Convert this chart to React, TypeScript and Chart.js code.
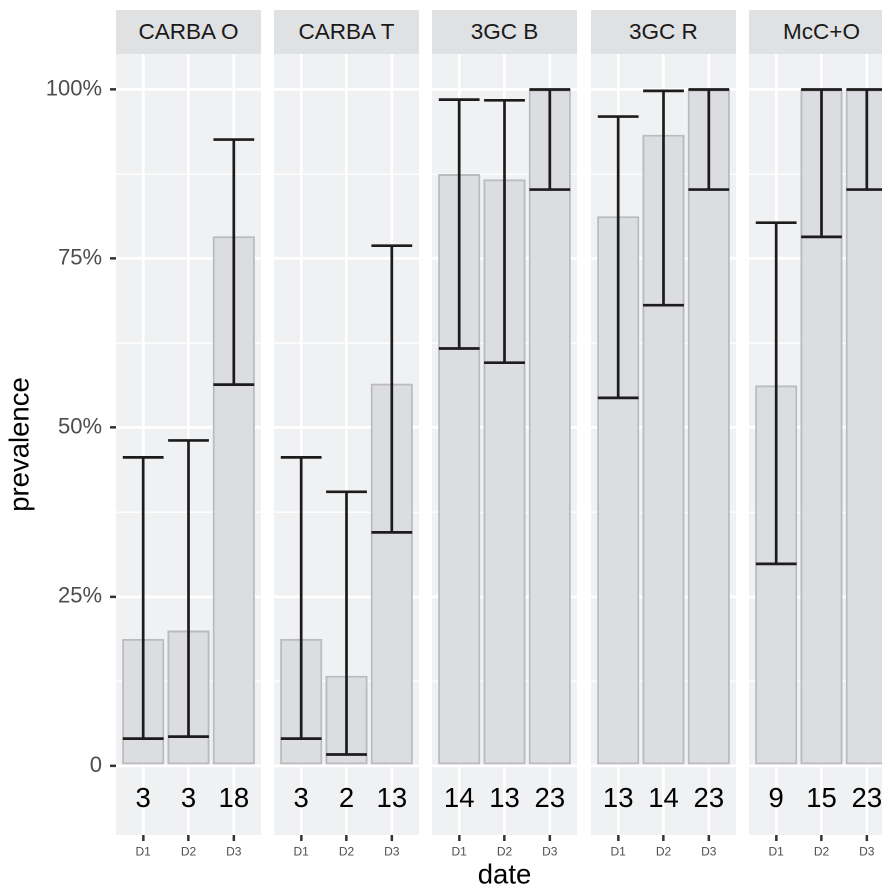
import React, { useEffect, useRef } from "react";
import { Chart, registerables } from "chart.js";

Chart.register(...registerables);

// ---------- data ----------
const FACETS = ["CARBA O", "CARBA T", "3GC B", "3GC R", "McC+O"];
const DATES = ["D1", "D2", "D3"];

const PREV_CARBA_O = [0.1875, 0.2, 0.783];
const PREV_CARBA_T = [0.1875, 0.133, 0.565];
const PREV_3GC_B = [0.875, 0.867, 1.0];
const PREV_3GC_R = [0.8125, 0.933, 1.0];
const PREV_MCC_O = [0.5625, 1.0, 1.0];

const LOW_CARBA_O = [0.04, 0.043, 0.5635];
const LOW_CARBA_T = [0.04, 0.0165, 0.345];
const LOW_3GC_B = [0.617, 0.596, 0.852];
const LOW_3GC_R = [0.544, 0.681, 0.852];
const LOW_MCC_O = [0.2985, 0.782, 0.852];

const UP_CARBA_O = [0.456, 0.481, 0.926];
const UP_CARBA_T = [0.456, 0.405, 0.769];
const UP_3GC_B = [0.985, 0.984, 1.0];
const UP_3GC_R = [0.96, 0.998, 1.0];
const UP_MCC_O = [0.803, 1.0, 1.0];

const N_CARBA_O = [3, 3, 18];
const N_CARBA_T = [3, 2, 13];
const N_3GC_B = [14, 13, 23];
const N_3GC_R = [13, 14, 23];
const N_MCC_O = [9, 15, 23];

const PREVALENCE = [PREV_CARBA_O, PREV_CARBA_T, PREV_3GC_B, PREV_3GC_R, PREV_MCC_O];
const LOWER = [LOW_CARBA_O, LOW_CARBA_T, LOW_3GC_B, LOW_3GC_R, LOW_MCC_O];
const UPPER = [UP_CARBA_O, UP_CARBA_T, UP_3GC_B, UP_3GC_R, UP_MCC_O];
const COUNTS = [N_CARBA_O, N_CARBA_T, N_3GC_B, N_3GC_R, N_MCC_O];

const Y_MAJOR = [0, 0.25, 0.5, 0.75, 1];
const Y_MAJOR_LABELS = ["0", "25%", "50%", "75%", "100%"];
const Y_MINOR = [0.125, 0.375, 0.625, 0.875];

// ---------- layout / style ----------
const FONT = "'Liberation Sans', Arial, Helvetica, sans-serif";
const PANEL_LEFTS = [116, 274, 432, 591, 749];
const PANEL_W = 145;
const STRIP_TOP = 10;
const STRIP_H = 44;
const CANVAS_H = 887 - STRIP_TOP;
const X_AXIS_H = 52;
const Y_AXIS_W = 116;
const Y_MIN = -0.1025;
const Y_MAX = 1.0525;
const X_MIN = -0.6;
const X_MAX = 2.6;
const COUNT_Y = -0.05;
const TICK_LEN = 6;

const PANEL_BG = "#f0f1f3";
const STRIP_BG = "#e0e1e3";
const BAR_FILL = "#dcdde0";
const BAR_BORDER = "#babbbd";
const ERR_COLOR = "#1c1c1c";
const TICK_COLOR = "#333333";
const TICK_TEXT = "#4d4d4d";

function Panel({ index }: { index: number }) {
  const ref = useRef<HTMLCanvasElement | null>(null);
  const isFirst = index === 0;
  const left = isFirst ? 0 : PANEL_LEFTS[index];
  const width = isFirst ? PANEL_LEFTS[0] + PANEL_W : PANEL_W;

  useEffect(() => {
    if (!ref.current) return;
    const lower = LOWER[index];
    const upper = UPPER[index];
    const counts = COUNTS[index];

    const facetPlugin = {
      id: "facetPanel",
      beforeDraw(chart: any) {
        const { ctx, chartArea: a } = chart;
        ctx.save();
        ctx.fillStyle = PANEL_BG;
        ctx.fillRect(a.left, a.top, a.right - a.left, a.bottom - a.top);
        ctx.restore();
      },
      afterDatasetsDraw(chart: any) {
        const { ctx, chartArea: a } = chart;
        const xs = chart.scales.x;
        const ys = chart.scales.y;
        ctx.save();
        ctx.beginPath();
        ctx.rect(a.left, a.top, a.right - a.left, a.bottom - a.top);
        ctx.clip();
        ctx.strokeStyle = ERR_COLOR;
        ctx.lineWidth = 2.7;
        ctx.lineCap = "butt";
        for (let i = 0; i < DATES.length; i++) {
          const x = xs.getPixelForValue(i);
          const half = (xs.getPixelForValue(i + 0.45) - xs.getPixelForValue(i - 0.45)) / 2;
          const yl = ys.getPixelForValue(lower[i]);
          const yu = ys.getPixelForValue(upper[i]);
          ctx.beginPath();
          ctx.moveTo(x, yu);
          ctx.lineTo(x, yl);
          ctx.moveTo(x - half, yu);
          ctx.lineTo(x + half, yu);
          ctx.moveTo(x - half, yl);
          ctx.lineTo(x + half, yl);
          ctx.stroke();
        }
        ctx.fillStyle = "#000000";
        ctx.font = `27.5px ${FONT}`;
        ctx.textAlign = "center";
        ctx.textBaseline = "middle";
        const ty = ys.getPixelForValue(COUNT_Y);
        for (let i = 0; i < DATES.length; i++) {
          ctx.fillText(String(counts[i]), xs.getPixelForValue(i), ty);
        }
        ctx.restore();
      },
    };

    const isMajor = (v: number) => Y_MAJOR.some((m) => Math.abs(m - v) < 1e-9);

    const chart = new Chart(ref.current, {
      type: "bar",
      data: {
        datasets: [
          {
            data: PREVALENCE[index].map((v, i) => ({ x: i, y: v })),
            backgroundColor: BAR_FILL,
            borderColor: BAR_BORDER,
            borderWidth: 2,
            borderSkipped: false,
            barPercentage: 0.93,
            categoryPercentage: 1,
          } as any,
        ],
      },
      options: {
        animation: false,
        responsive: false,
        devicePixelRatio: 2,
        layout: { padding: { top: STRIP_H, left: 0, right: 0, bottom: 0 } },
        plugins: {
          legend: { display: false },
          tooltip: { enabled: false },
          title: { display: false },
        },
        scales: {
          x: {
            type: "linear",
            offset: false,
            min: X_MIN,
            max: X_MAX,
            afterBuildTicks: (s: any) => {
              s.ticks = DATES.map((_, i) => ({ value: i }));
            },
            afterFit: (s: any) => {
              s.height = X_AXIS_H;
            },
            ticks: {
              autoSkip: false,
              maxRotation: 0,
              minRotation: 0,
              padding: 4,
              color: TICK_TEXT,
              font: { family: FONT, size: 12 },
              callback: (v: any) => DATES[Math.round(Number(v))] ?? "",
            },
            grid: {
              offset: false,
              color: "#ffffff",
              lineWidth: 2.7,
              drawTicks: true,
              tickLength: TICK_LEN,
              tickWidth: 2.5,
              tickColor: TICK_COLOR,
            },
            border: { display: false },
            title: {
              display: index === 2,
              text: "date",
              color: "#000000",
              font: { family: FONT, size: 27.5, lineHeight: 0.8 },
              padding: { top: 0, bottom: 0 },
            },
          },
          y: {
            type: "linear",
            min: Y_MIN,
            max: Y_MAX,
            afterBuildTicks: (s: any) => {
              s.ticks = [...Y_MAJOR, ...Y_MINOR].sort((a, b) => a - b).map((v) => ({ value: v }));
            },
            afterFit: (s: any) => {
              s.width = isFirst ? Y_AXIS_W : 0;
            },
            ticks: {
              display: isFirst,
              autoSkip: false,
              padding: 8,
              color: TICK_TEXT,
              font: { family: FONT, size: 22 },
              callback: (v: any) => {
                const k = Y_MAJOR.findIndex((m) => Math.abs(m - Number(v)) < 1e-9);
                return k >= 0 ? Y_MAJOR_LABELS[k] : "";
              },
            },
            grid: {
              color: "#ffffff",
              lineWidth: (c: any) => (c.tick && isMajor(c.tick.value) ? 2.7 : 1.35),
              drawTicks: isFirst,
              tickLength: TICK_LEN,
              tickWidth: 2.5,
              tickColor: (c: any) => (c.tick && isMajor(c.tick.value) ? TICK_COLOR : "rgba(0,0,0,0)"),
            },
            border: { display: false },
            title: {
              display: isFirst,
              text: "prevalence",
              color: "#000000",
              font: { family: FONT, size: 27.5, lineHeight: 1 },
              padding: { top: 7, bottom: 0 },
            },
          },
        },
      } as any,
      plugins: [facetPlugin],
    });
    return () => chart.destroy();
  }, [index]);

  return (
    <>
      <canvas
        ref={ref}
        width={width}
        height={CANVAS_H}
        style={{ position: "absolute", left, top: STRIP_TOP, width, height: CANVAS_H }}
      />
      <div
        style={{
          position: "absolute",
          left: PANEL_LEFTS[index],
          top: STRIP_TOP,
          width: PANEL_W,
          height: STRIP_H,
          lineHeight: `${STRIP_H}px`,
          background: STRIP_BG,
          color: "#1a1a1a",
          fontFamily: FONT,
          fontSize: 22.5,
          textAlign: "center",
          whiteSpace: "nowrap",
        }}
      >
        {FACETS[index]}
      </div>
    </>
  );
}

export default function App() {
  return (
    <div
      style={{
        position: "absolute",
        left: 0,
        top: 0,
        width: 882,
        height: 887,
        overflow: "hidden",
        background: "#ffffff",
      }}
    >
      {FACETS.map((_, i) => (
        <Panel key={i} index={i} />
      ))}
    </div>
  );
}
